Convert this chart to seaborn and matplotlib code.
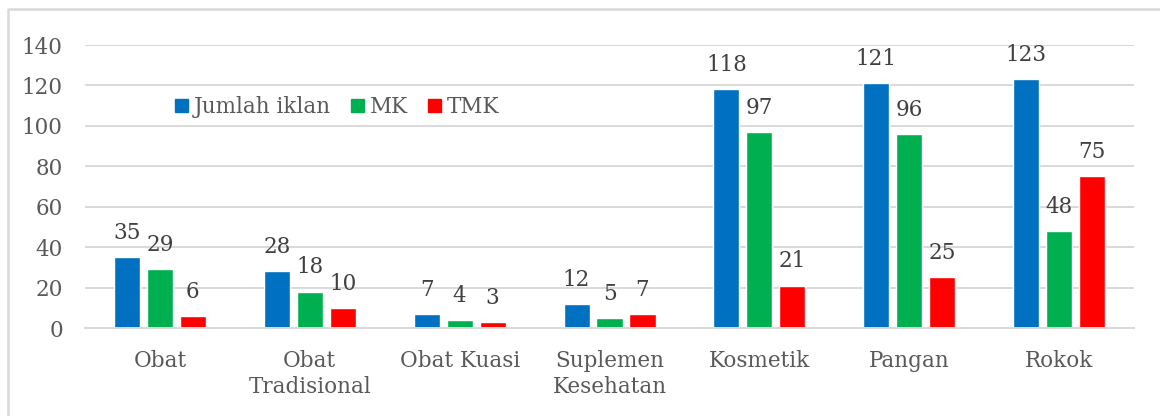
import numpy as np
import pandas as pd
from matplotlib import pyplot as plt
import matplotlib.patches as mpatches
from matplotlib.lines import Line2D
import seaborn as sns

categories = ['Obat', 'Obat\nTradisional', 'Obat Kuasi', 'Suplemen\nKesehatan', 'Kosmetik', 'Pangan', 'Rokok']
series = ['Jumlah iklan', 'MK', 'TMK']
jumlah_iklan = [35, 28, 7, 12, 118, 121, 123]
mk = [29, 18, 4, 5, 97, 96, 48]
tmk = [6, 10, 3, 7, 21, 25, 75]
colors = ['#0070C0', '#00B050', '#FF0000']

df = pd.DataFrame({
    'kategori': categories * 3,
    'seri': [s for s in series for _ in categories],
    'nilai': jumlah_iklan + mk + tmk,
})

sns.set_style('white')
plt.rcParams['font.family'] = ['DejaVu Serif']
grey = '#595959'
fs = 15.5

fig = plt.figure(figsize=(11.6, 4.16), dpi=100)
ax = fig.add_axes([0.0733, 0.2115, 0.9043, 0.6803])
sns.barplot(data=df, x='kategori', y='nilai', hue='seri', order=categories,
            hue_order=series, palette=colors, width=0.66, gap=0.21,
            saturation=1, ax=ax, legend=False)

for c in ax.containers:
    ax.bar_label(c, fontsize=fs, color='#404040', padding=9.5)

ax.set_ylim(0, 140)
ax.set_yticks(range(0, 141, 20))
ax.yaxis.grid(True, color='#D9D9D9', linewidth=1.4)
ax.set_axisbelow(True)
for s in ['top', 'right', 'left']:
    ax.spines[s].set_visible(False)
ax.spines['bottom'].set_color('#D9D9D9')
ax.spines['bottom'].set_linewidth(1.4)
ax.tick_params(axis='both', length=0, labelsize=fs, colors=grey)
ax.tick_params(axis='x', pad=16)
ax.tick_params(axis='y', pad=16)
ax.set_xlabel('')
ax.set_ylabel('')
ax.set_xlim(-0.5, 6.5)

handles = [mpatches.Patch(color=c, label=s) for c, s in zip(colors, series)]
ax.legend(handles=handles, loc='center left', bbox_to_anchor=(0.0858, 0.781),
          ncol=3, frameon=False, fontsize=fs, labelcolor=grey,
          borderaxespad=0, borderpad=0,
          handlelength=0.6, handleheight=0.6, handletextpad=0.28, columnspacing=0.93)

# outer chart-area border (only left and top edges are visible in the crop)
fig.add_artist(Line2D([8 / 1160, 8 / 1160, 1], [0, 1 - 9 / 416, 1 - 9 / 416],
                      transform=fig.transFigure, color='#D9D9D9', linewidth=1.8))

fig.savefig('out.png', dpi=100)
